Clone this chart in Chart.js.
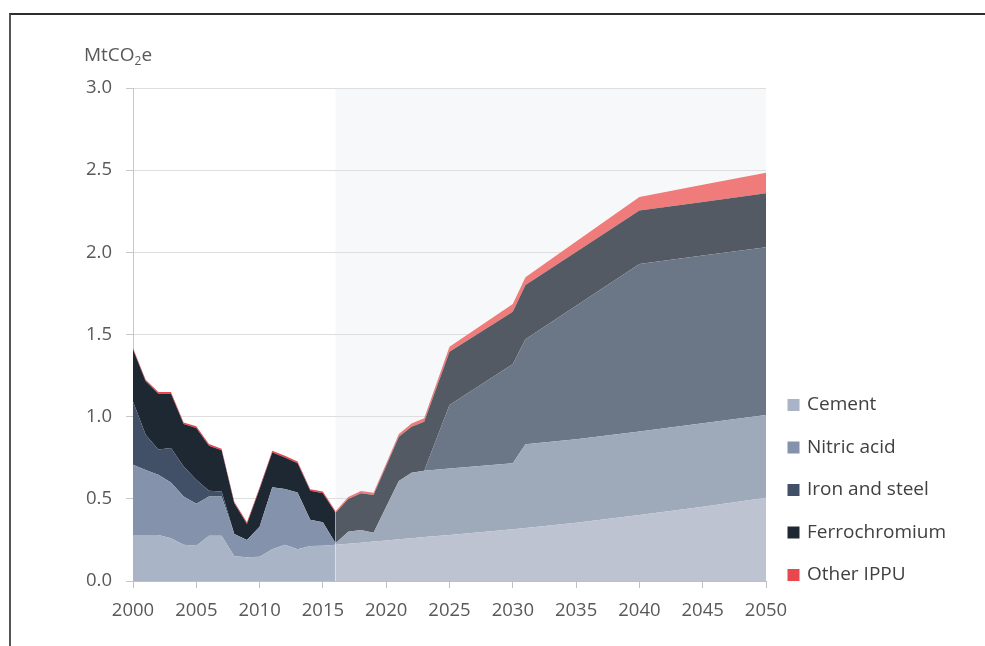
<!DOCTYPE html>
<html>
<head>
<meta charset="utf-8">
<script src="https://cdn.jsdelivr.net/npm/chart.js@4.4.1/dist/chart.umd.min.js"></script>
<style>
  html, body { margin: 0; padding: 0; background: #ffffff; overflow: hidden; }
  #wrap { position: relative; width: 985px; height: 646px; }
  #frame { position: absolute; left: 9px; top: 13px; width: 990px; height: 650px;
           border-top: 2px solid #2e2e2e; border-left: 2px solid #555555; pointer-events: none; }
  canvas { position: absolute; left: 0; top: 0; }
</style>
</head>
<body>
<div id="wrap">
  <canvas id="c" width="985" height="646" style="width:985px;height:646px"></canvas>
  <div id="frame"></div>
</div>
<script>
// ---- data ----
const years = [2000,2001,2002,2003,2004,2005,2006,2007,2008,2009,2010,2011,2012,2013,2014,2015,
               2016,2017,2018,2019,2020,2021,2022,2023,2025,2030,2031,2035,2040,2045,2050];
const projectionStartYear = 2016;
const cement = [0.28,0.28,0.28,0.26,0.22,0.215,0.275,0.275,
                0.15,0.145,0.148,0.193,0.22,0.193,0.213,0.215,
                0.22,0.227,0.233,0.24,0.247,0.254,0.26,0.267,
                0.28,0.315,0.322,0.355,0.402,0.452,0.507];
const nitricAcid = [0.427,0.396,0.366,0.34,0.294,0.255,0.239,0.239,
                    0.136,0.105,0.182,0.377,0.34,0.345,0.159,0.143,
                    0.009,0.073,0.077,0.054,0.205,0.355,0.399,0.404,
                    0.404,0.401,0.51,0.507,0.507,0.508,0.503];
const ironAndSteel = [0.386,0.214,0.154,0.21,0.183,0.146,0.035,0.03,
                      0,0,0,0,0,0,0,0,
                      0,0,0,0,0,0,0,0,
                      0.387,0.604,0.639,0.813,1.02,1.02,1.021];
const ferrochromium = [0.315,0.325,0.34,0.33,0.258,0.315,0.274,0.251,
                       0.187,0.097,0.23,0.212,0.192,0.179,0.177,0.176,
                       0.186,0.199,0.224,0.229,0.248,0.269,0.28,0.298,
                       0.324,0.319,0.33,0.327,0.325,0.327,0.329];
const otherIPPU = [0.01,0.01,0.01,0.01,0.01,0.01,0.01,0.01,
                   0.01,0.01,0.01,0.01,0.01,0.01,0.01,0.01,
                   0.01,0.012,0.013,0.014,0.015,0.017,0.019,0.021,
                   0.031,0.047,0.047,0.064,0.083,0.104,0.125];
const seriesNames = ['Cement','Nitric acid','Iron and steel','Ferrochromium','Other IPPU'];
const seriesValues = [cement, nitricAcid, ironAndSteel, ferrochromium, otherIPPU];
const yTicks = [0, 0.5, 1.0, 1.5, 2.0, 2.5, 3.0];
const xTickStep = 5;
const unitLabel = ['MtCO', '2', 'e'];

// ---- styles ----
const histColors = ['#a9b4c7','#8493ab','#415066','#1e2833','#e9474e'];
const projColors = ['#bdc3d1','#9ea9ba','#6b7686','#535a63','#ef7b7a'];
const FONT = "'Open Sans', 'DejaVu Sans', sans-serif";

const projIndex = years.indexOf(projectionStartYear);

const datasets = seriesValues.map((vals, k) => ({
  label: seriesNames[k],
  data: years.map((x, i) => ({x: x, y: vals[i]})),
  backgroundColor: histColors[k],
  borderColor: 'rgba(0,0,0,0)',
  borderWidth: 0,
  pointRadius: 0,
  pointHoverRadius: 0,
  tension: 0,
  fill: k === 0 ? 'origin' : '-1',
  segment: {
    backgroundColor: ctx => ctx.p0DataIndex >= projIndex ? projColors[k] : histColors[k]
  }
}));

const shadePlugin = {
  id: 'projShade',
  beforeDraw(chart) {
    const {ctx, chartArea, scales} = chart;
    const x0 = scales.x.getPixelForValue(projectionStartYear);
    ctx.save();
    ctx.fillStyle = '#f7f8f9';
    ctx.fillRect(x0, chartArea.top, chartArea.right - x0, chartArea.bottom - chartArea.top);
    ctx.restore();
  }
};

const unitPlugin = {
  id: 'unitLabel',
  afterDraw(chart) {
    const {ctx, chartArea} = chart;
    ctx.save();
    ctx.fillStyle = '#595959';
    ctx.textBaseline = 'alphabetic';
    ctx.textAlign = 'left';
    let x = chartArea.left - 49;
    const y = chartArea.top - 27;
    ctx.font = '19px ' + FONT;
    ctx.fillText(unitLabel[0], x, y);
    x += ctx.measureText(unitLabel[0]).width;
    ctx.font = '12px ' + FONT;
    ctx.fillText(unitLabel[1], x, y + 4);
    x += ctx.measureText(unitLabel[1]).width;
    ctx.font = '19px ' + FONT;
    ctx.fillText(unitLabel[2], x, y);
    ctx.restore();
  }
};

const chart = new Chart(document.getElementById('c'), {
  type: 'line',
  data: {datasets},
  plugins: [shadePlugin, unitPlugin],
  options: {
    responsive: false,
    animation: false,
    devicePixelRatio: 1,
    layout: {padding: {left: 0, top: 88, right: 20, bottom: 20}},
    interaction: {mode: 'nearest', intersect: false},
    plugins: {
      tooltip: {enabled: false},
      title: {display: false},
      legend: {
        display: true,
        position: 'right',
        align: 'start',
        fullSize: true,
        title: {display: true, text: '', font: {size: 10, lineHeight: 1.2}, padding: {top: 272, bottom: 0}},
        labels: {
          usePointStyle: true,
          pointStyle: 'rect',
          boxWidth: 8,
          boxHeight: 12,
          padding: 23.5,
          color: '#404040',
          font: {family: FONT, size: 19}
        }
      }
    },
    scales: {
      x: {
        type: 'linear',
        min: years[0],
        max: years[years.length - 1],
        afterFit: s => { s.height = 45; },
        ticks: {
          stepSize: xTickStep,
          padding: 12,
          color: '#595959',
          font: {family: FONT, size: 18.5},
          maxRotation: 0,
          callback: v => String(v)
        },
        grid: {drawOnChartArea: false, drawTicks: true, tickLength: 7, color: '#bfbfbf'},
        border: {display: true, color: '#bfbfbf', width: 1}
      },
      y: {
        stacked: true,
        min: 0,
        max: 3,
        afterFit: s => { s.width = 133; },
        afterBuildTicks: s => { s.ticks = yTicks.map(v => ({value: v})); },
        ticks: {
          padding: 14,
          color: '#595959',
          font: {family: FONT, size: 18.5},
          callback: v => v.toFixed(1)
        },
        grid: {color: '#dedede', tickColor: '#c8c8c8', tickLength: 7, drawTicks: true},
        border: {display: true, color: '#c8c8c8', width: 1}
      }
    }
  }
});

// align the plot's right edge with the reference (2050 at x=766)
const dx = chart.chartArea.right - 766;
if (Math.abs(dx) > 0.2) {
  chart.options.layout.padding.right += dx;
  chart.update();
}
</script>
</body>
</html>
